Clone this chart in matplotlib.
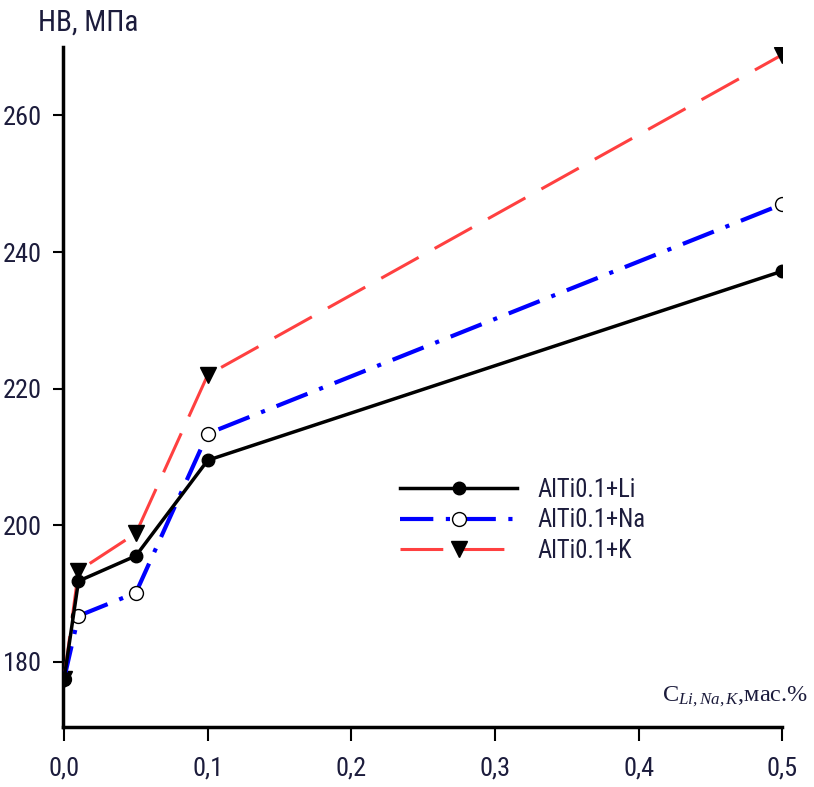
import matplotlib
matplotlib.use('Agg')
import matplotlib.pyplot as plt

# content of Li, Na, K, mass %
conc = [0.0, 0.01, 0.05, 0.1, 0.5]
hb_li = [177.5, 191.8, 195.5, 209.5, 237.2]
hb_na = [177.5, 186.7, 190.1, 213.4, 247.0]
hb_k = [177.5, 193.3, 198.8, 222.0, 268.9]

x_ticks = [0.0, 0.1, 0.2, 0.3, 0.4, 0.5]
x_ticklabels = ['0,0', '0,1', '0,2', '0,3', '0,4', '0,5']
y_ticks = [180, 200, 220, 240, 260]

plt.rcParams['font.family'] = ['Roboto Condensed', 'Liberation Sans Narrow',
                               'Liberation Sans', 'DejaVu Sans']
plt.rcParams['mathtext.fontset'] = 'custom'
plt.rcParams['mathtext.rm'] = 'Liberation Serif'
plt.rcParams['mathtext.it'] = 'Liberation Serif:italic'

txt_col = '#1c1c3c'

fig = plt.figure(figsize=(8.14, 7.87), dpi=100)
ax = fig.add_axes([0.077, 0.076, 0.884, 0.864])

ax.plot(conc, hb_k, color='#ff4040', lw=2.2, dashes=(14, 6), marker='v',
        ms=12, mfc='black', mec='black', label='AlTi0.1+K', zorder=3)
ax.plot(conc, hb_na, color='#0000ff', lw=3, dashes=(8, 3, 1, 3), marker='o',
        ms=10, mfc='white', mec='black', mew=1, label='AlTi0.1+Na', zorder=4)
ax.plot(conc, hb_li, color='black', lw=2.5, marker='o', ms=9,
        mfc='black', mec='black', label='AlTi0.1+Li', zorder=5)

ax.set_xlim(-0.001, 0.5)
ax.set_ylim(170.4, 270)
ax.set_xticks(x_ticks)
ax.set_xticklabels(x_ticklabels)
ax.set_yticks(y_ticks)

for s in ['top', 'right']:
    ax.spines[s].set_visible(False)
for s in ['left', 'bottom']:
    ax.spines[s].set_linewidth(2.5)

ax.tick_params(axis='y', direction='out', length=7, width=1.5, labelsize=19, pad=8,
               labelcolor=txt_col)
ax.tick_params(axis='x', direction='out', length=10, width=1.5, labelsize=19, pad=11,
               labelcolor=txt_col)

fig.text(0.047, 0.971, 'НВ, МПа', fontsize=21, ha='left', va='center', color=txt_col)
fig.text(0.993, 0.114, r'C$_{Li,Na,K}$,мас.%', fontsize=17.5, ha='right', va='center',
         family=['Liberation Serif', 'DejaVu Serif'], color=txt_col)

handles, labels = ax.get_legend_handles_labels()
order = [2, 1, 0]
ax.legend([handles[i] for i in order], [labels[i] for i in order],
          loc='center left', bbox_to_anchor=(0.469, 0.304), frameon=False,
          borderpad=0, borderaxespad=0,
          handlelength=4.75, handletextpad=0.85, labelspacing=0.26, fontsize=17.7,
          labelcolor=txt_col)

fig.savefig('out.png', dpi=100)
